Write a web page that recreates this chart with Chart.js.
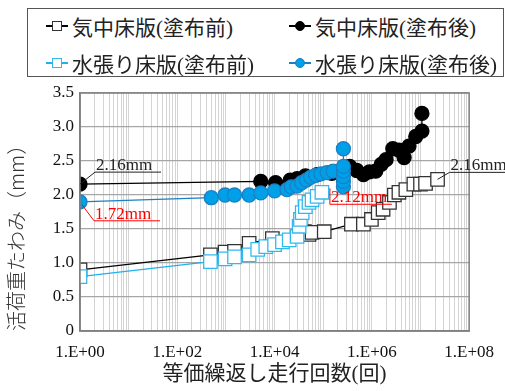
<!DOCTYPE html>
<html lang="ja">

<head>
  <meta charset="UTF-8">
  <title>活荷重たわみ</title>
  <script src="https://cdn.jsdelivr.net/npm/chart.js"></script>
  <style>
    body { margin: 0; background: #fff; }
    .box { position: relative; width: 505px; height: 391px; }
    #legenda {
      position: absolute; left: 27px; top: 8px; width: 477px; height: 69px;
      border: 1.5px solid #555; background: #fff; box-sizing: border-box;
      font-family: "Liberation Serif", "Noto Sans CJK JP", serif; font-size: 21px; color: #222;
    }
    .item { position: absolute; display: flex; align-items: center; height: 30px; white-space: nowrap; }
    .mk { position: relative; width: 22px; height: 30px; margin-right: 4px; }
    .mk .ln { position: absolute; left: 0; right: 0; top: 14px; height: 1.5px; }
    .mk .pt { position: absolute; left: 6px; top: 10px; width: 9px; height: 9px; box-sizing: border-box; }
  </style>
</head>

<body>
  <div class="box">
    <canvas id="gf1" width="505" height="391"></canvas>
    <div id="legenda"></div>
  </div>

  <script>
    // 気中床版(塗布前)
    const nKichuMae = [1, 480, 960, 1500, 3000, 9000, 41000, 51000, 59000, 105000, 380000, 670000, 980000,
      1350000, 1700000, 2300000, 2900000, 3600000, 5000000, 7300000, 10000000, 12700000, 22400000]
    const dKichuMae = [0.90, 1.12, 1.16, 1.17, 1.29, 1.36, 1.46, 1.42, 1.45, 1.46, 1.57, 1.57, 1.64,
      1.74, 1.79, 1.89, 2.00, 2.04, 2.08, 2.16, 2.16, 2.17, 2.23]

    // 気中床版(塗布後)
    const nKichuGo = [1, 5200, 10500, 21000, 29000, 43000, 75000, 150000, 240000, 350000, 490000, 670000,
      890000, 1200000, 1560000, 1960000, 2700000, 3600000, 4600000, 5800000, 8000000, 10700000, 10700000]
    const dKichuGo = [2.16, 2.20, 2.18, 2.22, 2.24, 2.28, 2.30, 2.32, 2.36, 2.42, 2.36, 2.30,
      2.34, 2.35, 2.45, 2.52, 2.68, 2.66, 2.55, 2.72, 2.86, 2.94, 3.20]

    // 水張り床版(塗布前)
    const nMizuMae = [1, 480, 960, 1500, 3000, 4500, 6600, 10000, 14500, 20000, 29000, 32000, 34000,
      37000, 43000, 51000, 59000, 75000, 94000]
    const dMizuMae = [0.80, 1.02, 1.06, 1.09, 1.12, 1.20, 1.24, 1.27, 1.31, 1.34, 1.39, 1.54, 1.64,
      1.74, 1.83, 1.89, 1.93, 1.98, 2.04]

    // 水張り床版(塗布後)
    const nMizuGo = [1, 500, 960, 1500, 3000, 5200, 10000, 18000, 22000, 29000, 36000, 45000, 55000,
      70000, 90000, 120000, 160000, 260000, 260000, 260000, 260000, 260000, 260000]
    const dMizuGo = [1.90, 1.96, 2.00, 2.00, 2.00, 2.03, 2.06, 2.08, 2.12, 2.13, 2.18, 2.22, 2.26,
      2.29, 2.31, 2.33, 2.35, 2.12, 2.20, 2.27, 2.35, 2.42, 2.68]

    const rotulosX = { 1: '1.E+00', 100: '1.E+02', 10000: '1.E+04', 1000000: '1.E+06', 100000000: '1.E+08' }
    const ticksY = [0, 0.5, 1, 1.5, 2, 2.5, 3, 3.5]

    function pares(ns, ds) {
      return ns.map(function (n, i) { return { x: n, y: ds[i] } })
    }

    const series = [
      { label: '気中床版(塗布前)', data: pares(nKichuMae, dKichuMae), cor: '#000', borda: '#333', fundo: '#fff', estilo: 'rect', ordem: 4 },
      { label: '気中床版(塗布後)', data: pares(nKichuGo, dKichuGo), cor: '#000', borda: '#000', fundo: '#000', estilo: 'circle', ordem: 2 },
      { label: '水張り床版(塗布前)', data: pares(nMizuMae, dMizuMae), cor: '#1fb0ee', borda: '#33b8ee', fundo: '#fff', estilo: 'rect', ordem: 3 },
      { label: '水張り床版(塗布後)', data: pares(nMizuGo, dMizuGo), cor: '#1b7fc2', borda: '#1b7fc2', fundo: '#00a0e9', estilo: 'circle', ordem: 1 }
    ]

    // anotações: texto, ponto de ancoragem (dados), deslocamentos em px
    const notas = [
      { texto: '2.16mm', x: 1, y: 2.16, cor: '#222', l1: [0, 0], l2: [15, -12], fim: 66 },
      { texto: '1.72mm', x: 1, y: 1.90, cor: '#ff0000', l1: [2, 3], l2: [14, 19], fim: 66 },
      { texto: '2.12mm', x: 94000, y: 2.04, cor: '#ff0000', l1: [8, -4], l2: [8, 12], fim: 62 },
      { texto: '2.16mm', x: 22400000, y: 2.23, cor: '#222', l1: [0, 0], l2: [12, -7], fim: 70 }
    ]

    const pluginMoldura = {
      id: 'moldura',
      afterDraw: function (chart) {
        const c = chart.ctx
        const a = chart.chartArea
        const sx = chart.scales.x
        const sy = chart.scales.y
        c.save()
        c.strokeStyle = '#7f7f7f'
        c.lineWidth = 1.5
        c.strokeRect(a.left, a.top, a.right - a.left, a.bottom - a.top)
        c.font = '17px "Liberation Serif"'
        c.textBaseline = 'alphabetic'
        notas.forEach(function (n) {
          const px = sx.getPixelForValue(n.x)
          const py = sy.getPixelForValue(n.y)
          const x1 = px + n.l1[0], y1 = py + n.l1[1]
          const x2 = px + n.l2[0], y2 = py + n.l2[1]
          c.strokeStyle = n.cor
          c.fillStyle = n.cor
          c.lineWidth = 1
          c.beginPath()
          c.moveTo(x1, y1)
          c.lineTo(x2, y2)
          c.lineTo(x2 + n.fim, y2)
          c.stroke()
          c.fillText(n.texto, x2 + 1, y2 - 2)
        })
        c.restore()
      }
    }

    const ctx = document.getElementById('gf1').getContext('2d')
    const grafico = new Chart(ctx, {
      type: 'line',
      data: {
        datasets: series.map(function (s) {
          return {
            label: s.label,
            data: s.data,
            order: s.ordem,
            borderColor: s.cor,
            borderWidth: 1.3,
            pointStyle: s.estilo,
            pointRadius: s.estilo == 'rect' ? 9.5 : 7,
            pointBackgroundColor: s.fundo,
            pointBorderColor: s.borda,
            pointBorderWidth: 1.3,
            tension: 0
          }
        })
      },
      options: {
        responsive: false,
        animation: false,
        layout: { padding: { top: 93, right: 31, left: 0, bottom: 0 } },
        plugins: { legend: { display: false }, tooltip: { enabled: false } },
        scales: {
          x: {
            type: 'logarithmic',
            min: 1,
            max: 100000000,
            afterBuildTicks: function (eixo) {
              const lista = []
              for (let e = 0; e < 8; e++) {
                for (let s = 1; s < 10; s++) lista.push({ value: s * Math.pow(10, e) })
              }
              lista.push({ value: 100000000 })
              eixo.ticks = lista
            },
            afterFit: function (eixo) { eixo.height = 60 },
            grid: { color: '#d4d4d4', lineWidth: 1, drawTicks: false },
            border: { color: '#7f7f7f', width: 1.5 },
            ticks: {
              autoSkip: false,
              maxRotation: 0,
              padding: 11,
              color: '#111',
              font: { family: 'Liberation Serif', size: 17 },
              callback: function (v) { return rotulosX[v] || '' }
            },
            title: {
              display: true,
              text: '等価繰返し走行回数(回)',
              color: '#222',
              padding: { top: 3 },
              font: { family: '"Liberation Serif", "Noto Sans CJK JP"', size: 21 }
            }
          },
          y: {
            min: 0,
            max: 3.5,
            afterBuildTicks: function (eixo) {
              eixo.ticks = ticksY.map(function (v) { return { value: v } })
            },
            afterFit: function (eixo) { eixo.width = 80 },
            grid: { color: '#a6a6a6', lineWidth: 1.2, drawTicks: false },
            border: { color: '#7f7f7f', width: 1.5 },
            ticks: {
              padding: 6,
              color: '#111',
              font: { family: 'Liberation Serif', size: 17 }
            },
            title: {
              display: true,
              text: '活荷重たわみ（mm）',
              align: 'start',
              color: '#333',
              padding: { bottom: 0 },
              font: { family: '"Noto Sans CJK JP"', size: 20, weight: '300' }
            }
          }
        }
      },
      plugins: [pluginMoldura]
    })

    // legenda manual 2x2 com moldura
    const posLegenda = [[18, 2], [261, 2], [18, 39], [261, 39]]
    const legenda = document.getElementById('legenda')
    series.forEach(function (s, i) {
      const d = document.createElement('div')
      d.className = 'item'
      d.style.left = posLegenda[i][0] + 'px'
      d.style.top = posLegenda[i][1] + 'px'
      const raio = s.estilo == 'circle' ? '50%' : '0'
      d.innerHTML = '<span class="mk"><span class="ln" style="background:' + s.cor + '"></span>' +
        '<span class="pt" style="width:10px;height:10px;border-radius:' + raio +
        ';border:1.5px solid ' + s.borda + ';background:' + s.fundo + '"></span></span>' +
        '<span>' + s.label + '</span>'
      legenda.appendChild(d)
    })
  </script>
</body>

</html>
